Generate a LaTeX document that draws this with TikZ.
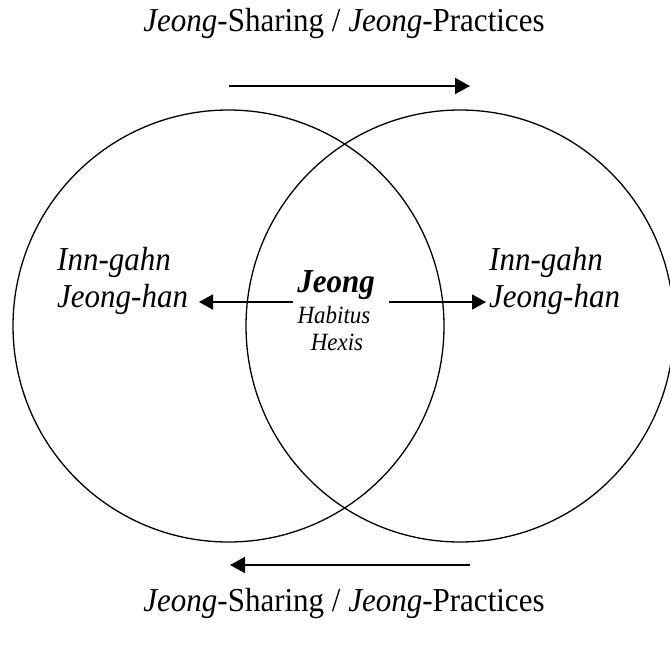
\documentclass[tikz,border=0pt]{standalone}
\usepackage{fontspec}
\usepackage{graphicx}
\setmainfont{Liberation Serif}
\usetikzlibrary{arrows.meta}
\newcommand{\tallt}[1]{\scalebox{1}[1.08]{#1}}
\tikzset{
  big/.style={font=\fontsize{31}{37}\selectfont, inner sep=0pt, anchor=base},
  bigit/.style={font=\fontsize{31}{37}\selectfont\itshape, inner sep=0pt, anchor=base west},
  small/.style={font=\fontsize{23}{27}\selectfont\itshape, inner sep=0pt, anchor=base},
  ring/.style={draw=black, line width=1.3pt},
  flow/.style={draw=black, line width=1.8pt, -{Triangle[length=15pt,width=16pt]}},
  link/.style={draw=black, line width=1.8pt, -{Triangle[length=14pt,width=15pt]}}
}
\begin{document}
\begin{tikzpicture}[x=1pt,y=-1pt]
\useasboundingbox (0,0) rectangle (670,649);
\clip (0,0) rectangle (670,649);
% circles
\draw[ring] (228.5,326) ellipse [x radius=215.5, y radius=216];
\draw[ring] (460,326) ellipse [x radius=214, y radius=216];
% top and bottom labels
\node[big] (top) at (344,31) {\tallt{\textit{Jeong}-Sharing / \textit{Jeong}-Practices}};
\node[big] (bot) at (344,611) {\tallt{\textit{Jeong}-Sharing / \textit{Jeong}-Practices}};
% side labels
\node[bigit] (innL) at (57,270) {\tallt{Inn-gahn}};
\node[bigit] (jhL) at (57,307) {\tallt{Jeong-han}};
\node[bigit] (innR) at (489,270) {\tallt{Inn-gahn}};
\node[bigit] (jhR) at (489,307) {\tallt{Jeong-han}};
% center labels
\node[big, font=\fontsize{31}{37}\selectfont\bfseries\itshape] (jeong) at (336,292) {\tallt{Jeong}};
\node[small] (hab) at (334,323) {\tallt{Habitus}};
\node[small] (hex) at (337,350) {\tallt{Hexis}};
% arrow coordinates
\coordinate (ts) at (229,86);
\coordinate (te) at (470,86);
\coordinate (bs) at (470,565);
\coordinate (be) at (230,565);
\coordinate (ls) at (293,302);
\coordinate (rs) at (389,302);
\coordinate (lt) at (199,302);
\coordinate (rt) at (486,302);
% arrows
\draw[flow] (ts) -- (te);
\draw[flow] (bs) -- (be);
\draw[link] (ls) -- (lt);
\draw[link] (rs) -- (rt);
\end{tikzpicture}
\end{document}
